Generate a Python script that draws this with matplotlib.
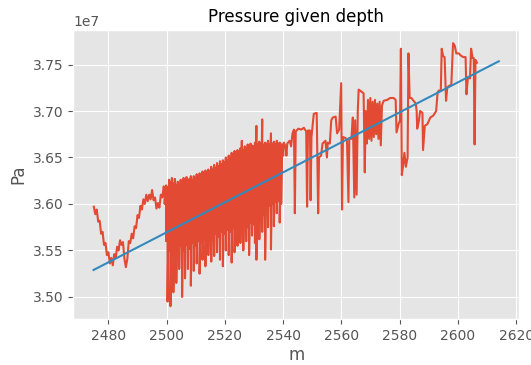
import numpy as np
import matplotlib
matplotlib.use('Agg')
import matplotlib.pyplot as plt

plt.style.use('ggplot')

# pressure values are in units of 1e7 Pa
pre_depth = [2475.0, 2475.5, 2476.0, 2476.5, 2477.0, 2477.5, 2478.0, 2478.5, 2479.0, 2479.5,
             2480.0, 2480.5, 2481.0, 2481.5, 2482.0, 2482.5, 2483.0, 2483.5, 2484.0, 2484.5,
             2485.0, 2485.5, 2486.0, 2486.5, 2487.0, 2487.5, 2488.0, 2488.5, 2489.0, 2489.5,
             2490.0, 2490.5, 2491.0, 2491.5, 2492.0, 2492.5, 2493.0, 2493.5, 2494.0, 2494.5,
             2495.0, 2495.5, 2496.0, 2496.5, 2497.0, 2497.5, 2498.0, 2498.5, 2499.0]
pre_p = [3.597, 3.589, 3.594, 3.581, 3.582, 3.568, 3.570, 3.556, 3.558, 3.545,
         3.548, 3.536, 3.542, 3.534, 3.546, 3.542, 3.554, 3.550, 3.561, 3.556,
         3.559, 3.541, 3.532, 3.541, 3.560, 3.558, 3.568, 3.563, 3.576, 3.574,
         3.588, 3.585, 3.598, 3.594, 3.605, 3.600, 3.610, 3.603, 3.610, 3.605,
         3.615, 3.604, 3.607, 3.595, 3.601, 3.596, 3.610, 3.607, 3.619]

dense_depth = [2499.3, 2499.8, 2500.3, 2500.8, 2501.3, 2501.8, 2502.3, 2502.8, 2503.3, 2503.8,
               2504.3, 2504.8, 2505.3, 2505.8, 2506.3, 2506.8, 2507.3, 2507.8, 2508.3, 2508.8,
               2509.3, 2509.8, 2510.3, 2510.8, 2511.3, 2511.8, 2512.3, 2512.8, 2513.3, 2513.8,
               2514.3, 2514.8, 2515.3, 2515.8, 2516.3, 2516.8, 2517.3, 2517.8, 2518.3, 2518.8,
               2519.3, 2519.8, 2520.3, 2520.8, 2521.3, 2521.8, 2522.3, 2522.8, 2523.3, 2523.8,
               2524.3, 2524.8, 2525.3, 2525.8, 2526.3, 2526.8, 2527.3, 2527.8, 2528.3, 2528.8,
               2529.3, 2529.8, 2530.3, 2530.8, 2531.3, 2531.8, 2532.3, 2532.8, 2533.3, 2533.8,
               2534.3, 2534.8, 2535.3, 2535.8, 2536.3, 2536.8, 2537.3, 2537.8, 2538.3, 2538.8,
               2539.3]
dense_hi = [3.612, 3.620, 3.618, 3.626, 3.624, 3.628, 3.622, 3.627, 3.620, 3.624,
            3.621, 3.626, 3.623, 3.628, 3.624, 3.629, 3.625, 3.627, 3.630, 3.626,
            3.630, 3.628, 3.632, 3.629, 3.633, 3.630, 3.635, 3.632, 3.636, 3.634,
            3.637, 3.635, 3.640, 3.637, 3.642, 3.639, 3.644, 3.641, 3.646, 3.643,
            3.647, 3.645, 3.650, 3.647, 3.652, 3.649, 3.655, 3.651, 3.657, 3.653,
            3.658, 3.655, 3.660, 3.668, 3.658, 3.662, 3.660, 3.664, 3.661, 3.665,
            3.663, 3.662, 3.666, 3.684, 3.664, 3.667, 3.665, 3.691, 3.664, 3.666,
            3.665, 3.668, 3.664, 3.676, 3.665, 3.667, 3.664, 3.668, 3.665, 3.666,
            3.664]
dense_lo = [3.600, 3.560, 3.495, 3.550, 3.490, 3.545, 3.505, 3.555, 3.515, 3.548,
            3.530, 3.555, 3.500, 3.550, 3.520, 3.556, 3.530, 3.552, 3.512, 3.558,
            3.528, 3.555, 3.536, 3.560, 3.525, 3.558, 3.540, 3.562, 3.533, 3.560,
            3.545, 3.565, 3.538, 3.562, 3.544, 3.568, 3.548, 3.565, 3.540, 3.570,
            3.533, 3.568, 3.550, 3.572, 3.545, 3.570, 3.537, 3.574, 3.548, 3.572,
            3.555, 3.576, 3.558, 3.574, 3.550, 3.578, 3.560, 3.575, 3.545, 3.580,
            3.566, 3.578, 3.558, 3.540, 3.580, 3.562, 3.585, 3.570, 3.588, 3.540,
            3.590, 3.575, 3.598, 3.551, 3.600, 3.576, 3.602, 3.590, 3.603, 3.580,
            3.600]

post_depth = [2539.6, 2540.0, 2540.2, 2540.8, 2541.1, 2541.4, 2542.2, 2542.7, 2543.2, 2543.7,
              2544.0, 2544.3, 2545.2, 2546.2, 2547.1, 2547.9, 2548.2, 2548.5, 2549.2, 2549.4,
              2549.7, 2550.3, 2550.5, 2551.5, 2552.0, 2552.3, 2553.0, 2553.5, 2554.5, 2555.0,
              2555.3, 2556.0, 2556.5, 2557.0, 2558.0, 2558.5, 2559.2, 2559.9, 2560.2, 2560.5,
              2561.4, 2561.9, 2562.4, 2562.7, 2563.4, 2563.9, 2564.4, 2564.7, 2565.2, 2565.6,
              2565.9, 2566.8, 2567.6, 2568.0, 2568.3, 2568.7, 2569.1, 2569.5, 2569.9, 2570.3,
              2570.7, 2571.1, 2571.5, 2571.9, 2572.3, 2572.7, 2573.1, 2573.5, 2573.9, 2574.5,
              2575.7, 2576.7, 2577.9, 2578.6, 2578.9, 2579.6, 2580.1, 2580.4, 2580.7, 2581.1,
              2581.6, 2582.1, 2582.7, 2583.0, 2583.4, 2584.0, 2584.5, 2585.5, 2585.8, 2586.0,
              2586.6, 2587.0, 2587.8, 2588.0, 2588.6, 2589.5, 2590.5, 2591.5, 2592.5, 2593.0,
              2593.4, 2594.1, 2594.4, 2594.9, 2595.4, 2595.9, 2596.3, 2596.9, 2597.7, 2598.3,
              2598.9, 2599.4, 2600.3, 2600.8, 2601.8, 2602.6, 2602.9, 2603.4, 2604.1, 2604.5,
              2605.0, 2605.4, 2605.7, 2606.0, 2606.5]
post_p = [3.664, 3.652, 3.666, 3.662, 3.652, 3.665, 3.668, 3.662, 3.676, 3.680,
          3.590, 3.678, 3.681, 3.680, 3.682, 3.678, 3.597, 3.679, 3.679, 3.604,
          3.672, 3.690, 3.697, 3.698, 3.590, 3.650, 3.652, 3.665, 3.668, 3.650,
          3.666, 3.665, 3.690, 3.693, 3.694, 3.676, 3.680, 3.730, 3.594, 3.672,
          3.671, 3.668, 3.602, 3.671, 3.670, 3.693, 3.607, 3.690, 3.610, 3.700,
          3.723, 3.721, 3.719, 3.634, 3.700, 3.665, 3.712, 3.670, 3.714, 3.668,
          3.710, 3.672, 3.712, 3.675, 3.708, 3.670, 3.710, 3.663, 3.706, 3.711,
          3.712, 3.714, 3.714, 3.712, 3.677, 3.686, 3.690, 3.767, 3.631, 3.640,
          3.655, 3.640, 3.650, 3.762, 3.714, 3.714, 3.712, 3.708, 3.700, 3.681,
          3.690, 3.700, 3.698, 3.658, 3.684, 3.686, 3.693, 3.695, 3.700, 3.720,
          3.722, 3.722, 3.767, 3.759, 3.758, 3.711, 3.725, 3.727, 3.728, 3.773,
          3.770, 3.762, 3.762, 3.760, 3.758, 3.758, 3.718, 3.736, 3.735, 3.767,
          3.757, 3.757, 3.664, 3.755, 3.752]

fit_depth = [2474.9, 2614.0]
fit_p = [3.529, 3.7535]

depth = np.concatenate([pre_depth, np.repeat(dense_depth, 2), post_depth])
pressure = np.concatenate([pre_p, np.column_stack([dense_hi, dense_lo]).ravel(), post_p]) * 1e7

fig = plt.figure(figsize=(5.31, 3.65), dpi=100)
ax = fig.add_axes([0.138, 0.125, 0.8395, 0.7928])
ax.plot(depth, pressure)
ax.plot(fit_depth, np.array(fit_p) * 1e7)
ax.set_title('Pressure given depth', fontsize=12)
ax.set_xlabel('m', labelpad=2)
ax.set_ylabel('Pa')

fig.savefig('out.png', dpi=100)
